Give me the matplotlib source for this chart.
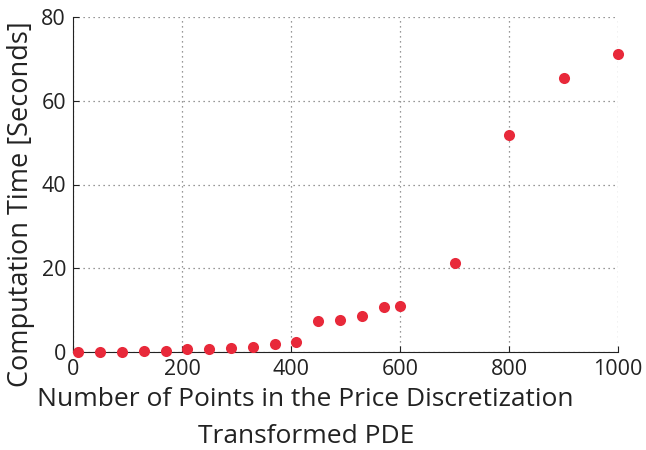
import numpy as np
import matplotlib.pyplot as plt

plt.rcParams['font.family'] = ['Open Sans', 'DejaVu Sans']

# grid size vs. runtime
n_points = [10, 50, 90, 130, 170, 210, 250, 290, 330, 370, 410,
            450, 490, 530, 570, 600, 700, 800, 900, 1000]
comp_time = [0.02, 0.05, 0.1, 0.2, 0.3, 0.6, 0.7, 0.95, 1.3, 1.8, 2.5,
             7.5, 7.6, 8.7, 10.8, 10.9, 21.3, 51.8, 65.5, 71.1]

fig = plt.figure(figsize=(6.46, 4.5), dpi=100)
ax = fig.add_axes([73 / 646, 1 - 352 / 450, 545 / 646, 335 / 450])

ax.plot(n_points, comp_time, 'o', color='#e8293a', markersize=8,
        markeredgewidth=0, clip_on=False, zorder=3)

ax.set_xlim(0, 1000)
ax.set_ylim(0, 80)
ax.set_xticks(np.arange(0, 1001, 200))
ax.set_yticks(np.arange(0, 81, 20))
ax.grid(True, linestyle=(0, (1, 3)), color='#777777', linewidth=0.9)
ax.spines['top'].set_visible(False)
ax.spines['right'].set_visible(False)
ax.spines['left'].set_color('#222222')
ax.spines['bottom'].set_color('#222222')
ax.tick_params(direction='in', length=4, labelsize=15.5, colors='#222222',
               labelcolor='#222222')
ax.tick_params(axis='x', pad=5)
ax.tick_params(axis='y', pad=5)

ax.set_ylabel('Computation Time [Seconds]', fontsize=19.5, color='#222222')
ax.yaxis.set_label_coords(-0.07, 0.44)
ax.set_xlabel('Number of Points in the Price Discretization\nTransformed PDE',
              fontsize=19, color='#222222', linespacing=1.6)
ax.xaxis.set_label_coords(0.427, -0.105)
ax.xaxis.label.set_va('top')

fig.savefig('out.png', dpi=100)
